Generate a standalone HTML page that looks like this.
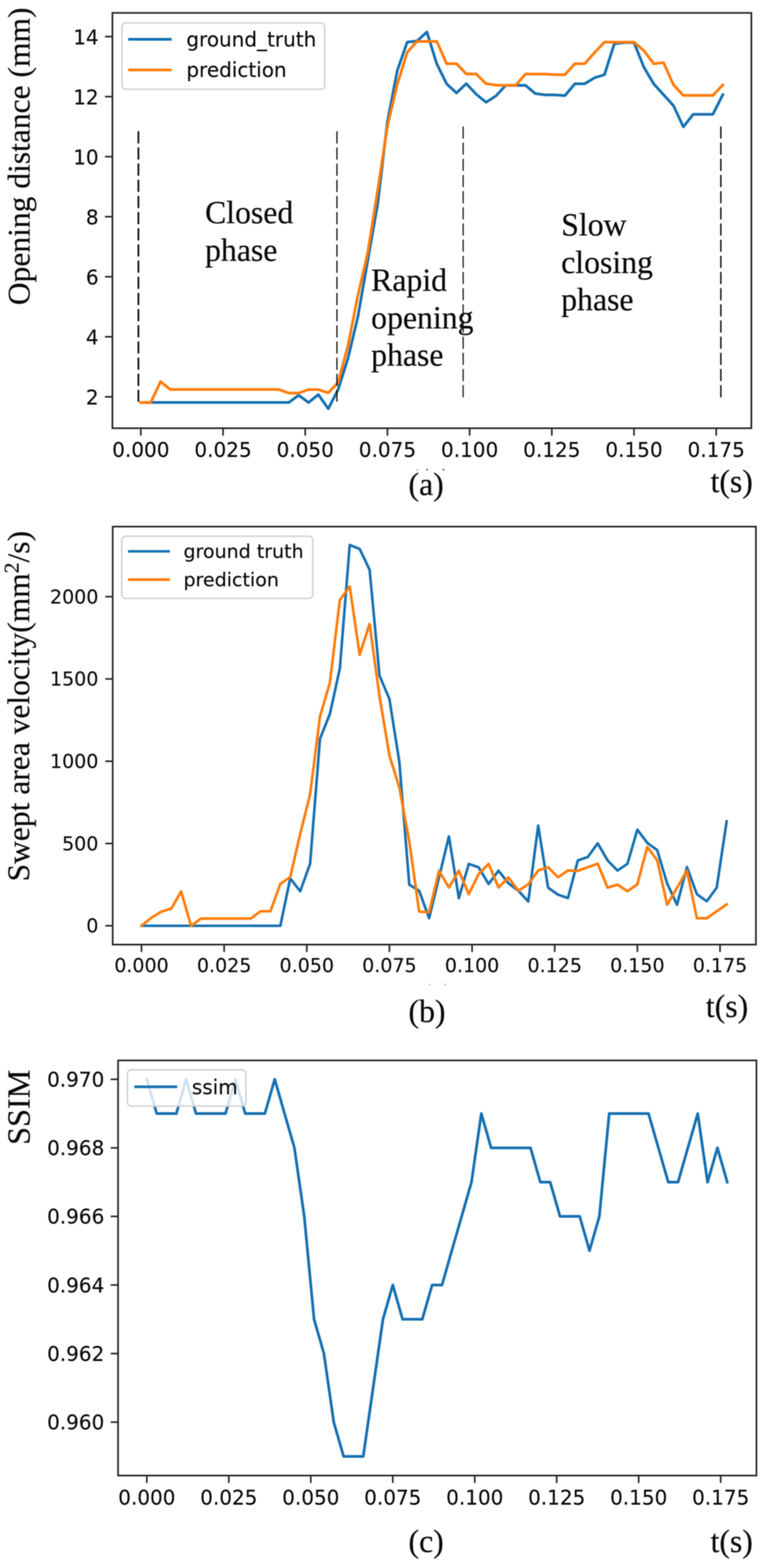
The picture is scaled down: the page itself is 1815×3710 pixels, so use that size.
<!DOCTYPE html>
<html lang="en">
<head>
<meta charset="utf-8">
<title>Figure: opening distance, swept area velocity, SSIM</title>
<style>
html,body{margin:0;padding:0;background:#fff;}
body{width:1815px;height:3710px;overflow:hidden;}
svg{display:block;}
</style>
</head>
<body>
<svg width="1815" height="3710" viewBox="0 0 1815 3710">
<rect width="1815" height="3710" fill="#fff"/>
<defs><filter id="soft" x="0" y="0" width="100%" height="100%" filterUnits="userSpaceOnUse" color-interpolation-filters="sRGB"><feGaussianBlur stdDeviation="0.85"/></filter></defs>
<g filter="url(#soft)">
<rect x="-10" y="-10" width="1835" height="3730" fill="#fff"/>
<g id="chart-a">
<polyline points="333.3,952.3 356.6,952.3 380.0,952.3 403.3,952.3 426.7,952.3 450.0,952.3 473.3,952.3 496.7,952.3 520.0,952.3 543.4,952.3 566.7,952.3 590.0,952.3 613.4,952.3 636.7,952.3 660.1,952.3 683.4,952.3 706.7,935.2 730.1,952.3 753.4,933.6 776.8,967.0 800.1,921.8 823.4,848.0 846.8,750.0 870.1,617.0 893.5,484.0 916.8,288.0 940.1,167.0 963.5,99.8 986.8,97.1 1010.2,75.7 1033.5,150.7 1056.8,198.3 1080.2,219.8 1103.5,197.9 1126.9,223.0 1150.2,241.9 1173.5,226.9 1196.9,201.9 1220.2,201.9 1243.6,201.9 1266.9,221.4 1290.2,224.5 1313.6,224.5 1336.9,226.2 1360.3,198.3 1383.6,198.3 1406.9,184.0 1430.3,176.9 1453.6,103.8 1477.0,100.7 1500.3,100.7 1523.6,159.0 1547.0,198.5 1570.3,224.2 1593.7,250.0 1617.0,300.2 1640.3,270.5 1663.7,270.5 1687.0,270.5 1710.4,224.0" fill="none" stroke="#1570b2" stroke-width="6.5" stroke-linejoin="round" stroke-linecap="square" />
<polyline points="333.3,952.3 356.6,952.3 380.0,903.0 403.3,921.6 426.7,921.6 450.0,921.6 473.3,921.6 496.7,921.6 520.0,921.6 543.4,921.6 566.7,921.6 590.0,921.6 613.4,921.6 636.7,921.6 660.1,921.6 683.4,930.0 706.7,930.0 730.1,921.7 753.4,921.7 776.8,929.5 800.1,905.0 823.4,818.0 846.8,699.5 870.1,598.6 893.5,452.0 916.8,298.5 940.1,199.5 963.5,124.0 986.8,97.9 1010.2,97.9 1033.5,97.9 1056.8,150.7 1080.2,150.7 1103.5,175.0 1126.9,175.0 1150.2,198.0 1173.5,201.4 1196.9,201.9 1220.2,201.9 1243.6,175.2 1266.9,175.2 1290.2,175.2 1313.6,176.7 1336.9,176.7 1360.3,150.7 1383.6,150.7 1406.9,124.5 1430.3,99.7 1453.6,99.7 1477.0,99.7 1500.3,99.7 1523.6,119.8 1547.0,150.7 1570.3,148.3 1593.7,200.8 1617.0,225.8 1640.3,225.8 1663.7,225.8 1687.0,225.8 1710.4,200.8" fill="none" stroke="#ff7c0a" stroke-width="6.5" stroke-linejoin="round" stroke-linecap="square" />
<line x1="327.5" y1="310.5" x2="327.5" y2="950.6" stroke="#111" stroke-width="4.2" stroke-dasharray="28.8 9.45"/>
<line x1="797.3" y1="310.8" x2="797.3" y2="950.2" stroke="#111" stroke-width="3.0" stroke-dasharray="28.8 9.45"/>
<line x1="1096.0" y1="299.2" x2="1096.0" y2="941.6" stroke="#111" stroke-width="2.8" stroke-dasharray="28.8 9.45"/>
<line x1="1705.8" y1="299.2" x2="1705.8" y2="941.6" stroke="#111" stroke-width="3.4" stroke-dasharray="28.8 9.45"/>
<rect x="266" y="30.5" width="1512" height="982.7" fill="none" stroke="#222" stroke-width="3.9"/>
<line x1="333.3" y1="1013.2" x2="333.3" y2="1030.7" stroke="#222" stroke-width="3.8"/>
<text x="333.3" y="1081.0" font-family='"DejaVu Sans", "Liberation Sans", sans-serif' font-size="47.3" text-anchor="middle" fill="#0a0a0a" stroke="#0a0a0a" stroke-width="0.3" stroke-linejoin="round" >0.000</text>
<line x1="527.8" y1="1013.2" x2="527.8" y2="1030.7" stroke="#222" stroke-width="3.8"/>
<text x="527.8" y="1081.0" font-family='"DejaVu Sans", "Liberation Sans", sans-serif' font-size="47.3" text-anchor="middle" fill="#0a0a0a" stroke="#0a0a0a" stroke-width="0.3" stroke-linejoin="round" >0.025</text>
<line x1="722.3" y1="1013.2" x2="722.3" y2="1030.7" stroke="#222" stroke-width="3.8"/>
<text x="722.3" y="1081.0" font-family='"DejaVu Sans", "Liberation Sans", sans-serif' font-size="47.3" text-anchor="middle" fill="#0a0a0a" stroke="#0a0a0a" stroke-width="0.3" stroke-linejoin="round" >0.050</text>
<line x1="916.8" y1="1013.2" x2="916.8" y2="1030.7" stroke="#222" stroke-width="3.8"/>
<text x="916.8" y="1081.0" font-family='"DejaVu Sans", "Liberation Sans", sans-serif' font-size="47.3" text-anchor="middle" fill="#0a0a0a" stroke="#0a0a0a" stroke-width="0.3" stroke-linejoin="round" >0.075</text>
<line x1="1111.3" y1="1013.2" x2="1111.3" y2="1030.7" stroke="#222" stroke-width="3.8"/>
<text x="1111.3" y="1081.0" font-family='"DejaVu Sans", "Liberation Sans", sans-serif' font-size="47.3" text-anchor="middle" fill="#0a0a0a" stroke="#0a0a0a" stroke-width="0.3" stroke-linejoin="round" >0.100</text>
<line x1="1305.8" y1="1013.2" x2="1305.8" y2="1030.7" stroke="#222" stroke-width="3.8"/>
<text x="1305.8" y="1081.0" font-family='"DejaVu Sans", "Liberation Sans", sans-serif' font-size="47.3" text-anchor="middle" fill="#0a0a0a" stroke="#0a0a0a" stroke-width="0.3" stroke-linejoin="round" >0.125</text>
<line x1="1500.3" y1="1013.2" x2="1500.3" y2="1030.7" stroke="#222" stroke-width="3.8"/>
<text x="1500.3" y="1081.0" font-family='"DejaVu Sans", "Liberation Sans", sans-serif' font-size="47.3" text-anchor="middle" fill="#0a0a0a" stroke="#0a0a0a" stroke-width="0.3" stroke-linejoin="round" >0.150</text>
<line x1="1694.8" y1="1013.2" x2="1694.8" y2="1030.7" stroke="#222" stroke-width="3.8"/>
<text x="1694.8" y="1081.0" font-family='"DejaVu Sans", "Liberation Sans", sans-serif' font-size="47.3" text-anchor="middle" fill="#0a0a0a" stroke="#0a0a0a" stroke-width="0.3" stroke-linejoin="round" >0.175</text>
<line x1="248.5" y1="938.9" x2="266" y2="938.9" stroke="#222" stroke-width="3.8"/>
<text x="233.4" y="957.2" font-family='"DejaVu Sans", "Liberation Sans", sans-serif' font-size="47.3" text-anchor="end" fill="#0a0a0a" stroke="#0a0a0a" stroke-width="0.3" stroke-linejoin="round" >2</text>
<line x1="248.5" y1="796.8" x2="266" y2="796.8" stroke="#222" stroke-width="3.8"/>
<text x="233.4" y="815.1" font-family='"DejaVu Sans", "Liberation Sans", sans-serif' font-size="47.3" text-anchor="end" fill="#0a0a0a" stroke="#0a0a0a" stroke-width="0.3" stroke-linejoin="round" >4</text>
<line x1="248.5" y1="654.8" x2="266" y2="654.8" stroke="#222" stroke-width="3.8"/>
<text x="233.4" y="673.0" font-family='"DejaVu Sans", "Liberation Sans", sans-serif' font-size="47.3" text-anchor="end" fill="#0a0a0a" stroke="#0a0a0a" stroke-width="0.3" stroke-linejoin="round" >6</text>
<line x1="248.5" y1="512.7" x2="266" y2="512.7" stroke="#222" stroke-width="3.8"/>
<text x="233.4" y="531.0" font-family='"DejaVu Sans", "Liberation Sans", sans-serif' font-size="47.3" text-anchor="end" fill="#0a0a0a" stroke="#0a0a0a" stroke-width="0.3" stroke-linejoin="round" >8</text>
<line x1="248.5" y1="370.6" x2="266" y2="370.6" stroke="#222" stroke-width="3.8"/>
<text x="233.4" y="388.9" font-family='"DejaVu Sans", "Liberation Sans", sans-serif' font-size="47.3" text-anchor="end" fill="#0a0a0a" stroke="#0a0a0a" stroke-width="0.3" stroke-linejoin="round" >10</text>
<line x1="248.5" y1="228.6" x2="266" y2="228.6" stroke="#222" stroke-width="3.8"/>
<text x="233.4" y="246.8" font-family='"DejaVu Sans", "Liberation Sans", sans-serif' font-size="47.3" text-anchor="end" fill="#0a0a0a" stroke="#0a0a0a" stroke-width="0.3" stroke-linejoin="round" >12</text>
<line x1="248.5" y1="86.5" x2="266" y2="86.5" stroke="#222" stroke-width="3.8"/>
<text x="233.4" y="104.7" font-family='"DejaVu Sans", "Liberation Sans", sans-serif' font-size="47.3" text-anchor="end" fill="#0a0a0a" stroke="#0a0a0a" stroke-width="0.3" stroke-linejoin="round" >14</text>
<rect x="288.6" y="54.3" width="479.6" height="157" rx="9" ry="9" fill="#fff" fill-opacity="0.8" stroke="#d2d2d2" stroke-width="3.6"/>
<line x1="306.5" y1="92.9" x2="403" y2="92.9" stroke="#1570b2" stroke-width="6.5" stroke-linecap="square"/>
<line x1="306.5" y1="165.5" x2="403" y2="165.5" stroke="#ff7c0a" stroke-width="6.5" stroke-linecap="square"/>
<text x="441.0" y="109.5" font-family='"DejaVu Sans", "Liberation Sans", sans-serif' font-size="47.3" text-anchor="start" fill="#0a0a0a" stroke="#0a0a0a" stroke-width="0.3" stroke-linejoin="round" >ground_truth</text>
<text x="441.0" y="182.1" font-family='"DejaVu Sans", "Liberation Sans", sans-serif' font-size="47.3" text-anchor="start" fill="#0a0a0a" stroke="#0a0a0a" stroke-width="0.3" stroke-linejoin="round" >prediction</text>
<text x="485.2" y="527.8" font-family='"Liberation Serif", "DejaVu Serif", serif' font-size="75.2" text-anchor="start" fill="#0a0a0a" stroke="#0a0a0a" stroke-width="0.45" stroke-linejoin="round" >Closed</text>
<text x="485.2" y="617.0" font-family='"Liberation Serif", "DejaVu Serif", serif' font-size="75.2" text-anchor="start" fill="#0a0a0a" stroke="#0a0a0a" stroke-width="0.45" stroke-linejoin="round" >phase</text>
<text x="878.3" y="688.0" font-family='"Liberation Serif", "DejaVu Serif", serif' font-size="75.2" text-anchor="start" fill="#0a0a0a" stroke="#0a0a0a" stroke-width="0.45" stroke-linejoin="round" >Rapid</text>
<text x="878.3" y="777.2" font-family='"Liberation Serif", "DejaVu Serif", serif' font-size="75.2" text-anchor="start" fill="#0a0a0a" stroke="#0a0a0a" stroke-width="0.45" stroke-linejoin="round" >opening</text>
<text x="878.3" y="865.3" font-family='"Liberation Serif", "DejaVu Serif", serif' font-size="75.2" text-anchor="start" fill="#0a0a0a" stroke="#0a0a0a" stroke-width="0.45" stroke-linejoin="round" >phase</text>
<text x="1328.0" y="557.2" font-family='"Liberation Serif", "DejaVu Serif", serif' font-size="75.2" text-anchor="start" fill="#0a0a0a" stroke="#0a0a0a" stroke-width="0.45" stroke-linejoin="round" >Slow</text>
<text x="1328.0" y="645.6" font-family='"Liberation Serif", "DejaVu Serif", serif' font-size="75.2" text-anchor="start" fill="#0a0a0a" stroke="#0a0a0a" stroke-width="0.45" stroke-linejoin="round" >closing</text>
<text x="1328.0" y="733.8" font-family='"Liberation Serif", "DejaVu Serif", serif' font-size="75.2" text-anchor="start" fill="#0a0a0a" stroke="#0a0a0a" stroke-width="0.45" stroke-linejoin="round" >phase</text>
<text x="0" y="0" font-family='"Liberation Serif", "DejaVu Serif", serif' font-size="74.6" text-anchor="start" fill="#0a0a0a" stroke="#0a0a0a" stroke-width="0.45" stroke-linejoin="round" transform="translate(69.5,722) rotate(-90)">Opening distance (mm)</text>
<text x="966.6" y="1170.8" font-family='"Liberation Serif", "DejaVu Serif", serif' font-size="75.3" text-anchor="start" fill="#0a0a0a" stroke="#0a0a0a" stroke-width="0.45" stroke-linejoin="round" >(a)</text>
<circle cx="988" cy="1111.8" r="1.6" fill="#777"/>
<circle cx="1010.5" cy="1111.3" r="2.0" fill="#444"/>
<circle cx="1049.5" cy="1111.3" r="2.0" fill="#333"/>
<text x="1681.4" y="1163.8" font-family='"Liberation Serif", "DejaVu Serif", serif' font-size="75.2" text-anchor="start" fill="#0a0a0a" stroke="#0a0a0a" stroke-width="0.45" stroke-linejoin="round" >t(s)</text>
</g>
<g id="chart-b">
<polyline points="334.8,2190.5 358.3,2190.5 381.7,2190.5 405.2,2190.5 428.7,2190.5 452.1,2190.5 475.6,2190.5 499.1,2190.5 522.6,2190.5 546.0,2190.5 569.5,2190.5 593.0,2190.5 616.4,2190.5 639.9,2190.5 663.4,2190.5 686.8,2078.4 710.3,2108.7 733.8,2043.7 757.2,1747.8 780.7,1689.0 804.2,1581.5 827.6,1289.4 851.1,1298.8 874.6,1347.8 898.1,1598.6 921.5,1653.9 945.0,1803.0 968.5,2093.2 991.9,2107.6 1015.4,2172.6 1038.9,2076.0 1062.3,1979.1 1085.8,2125.1 1109.3,2044.1 1132.7,2052.3 1156.2,2091.6 1179.7,2060.1 1203.2,2090.0 1226.6,2107.6 1250.1,2132.9 1273.6,1953.4 1297.0,2100.2 1320.5,2116.9 1344.0,2124.7 1367.4,2035.9 1390.9,2027.7 1414.4,1995.4 1437.8,2035.9 1461.3,2059.7 1484.8,2043.7 1508.2,1963.1 1531.7,1994.2 1555.2,2011.4 1578.7,2090.4 1602.1,2140.7 1625.6,2051.5 1649.1,2115.7 1672.5,2132.5 1696.0,2100.2 1719.5,1943.6" fill="none" stroke="#1570b2" stroke-width="6.2" stroke-linejoin="round" stroke-linecap="square" />
<polyline points="334.8,2190.5 358.3,2171.4 381.7,2157.0 405.2,2150.0 428.7,2109.1 452.1,2190.5 475.6,2173.4 499.1,2173.4 522.6,2173.4 546.0,2173.4 569.5,2173.4 593.0,2173.4 616.4,2156.2 639.9,2156.2 663.4,2091.2 686.8,2075.2 710.3,1973.2 733.8,1879.4 757.2,1695.2 780.7,1615.0 804.2,1419.5 827.6,1387.6 851.1,1549.5 874.6,1476.3 898.1,1647.7 921.5,1787.5 945.0,1863.4 968.5,1990.3 991.9,2157.0 1015.4,2158.6 1038.9,2060.1 1062.3,2099.8 1085.8,2060.1 1109.3,2115.7 1132.7,2067.8 1156.2,2044.1 1179.7,2099.8 1203.2,2076.0 1226.6,2107.6 1250.1,2092.4 1273.6,2059.7 1297.0,2051.9 1320.5,2075.6 1344.0,2059.7 1367.4,2060.4 1390.9,2051.9 1414.4,2043.7 1437.8,2100.2 1461.3,2093.2 1484.8,2108.7 1508.2,2092.4 1531.7,2004.0 1555.2,2035.5 1578.7,2140.7 1602.1,2100.5 1625.6,2060.1 1649.1,2172.6 1672.5,2172.6 1696.0,2156.2 1719.5,2139.9" fill="none" stroke="#ff7c0a" stroke-width="6.2" stroke-linejoin="round" stroke-linecap="square" />
<rect x="266.7" y="1246" width="1522.1" height="989.0" fill="none" stroke="#222" stroke-width="3.9"/>
<line x1="334.8" y1="2235.0" x2="334.8" y2="2252.5" stroke="#222" stroke-width="3.8"/>
<text x="334.8" y="2300.3" font-family='"DejaVu Sans", "Liberation Sans", sans-serif' font-size="45.0" text-anchor="middle" fill="#0a0a0a" stroke="#0a0a0a" stroke-width="0.3" stroke-linejoin="round" >0.000</text>
<line x1="530.4" y1="2235.0" x2="530.4" y2="2252.5" stroke="#222" stroke-width="3.8"/>
<text x="530.4" y="2300.3" font-family='"DejaVu Sans", "Liberation Sans", sans-serif' font-size="45.0" text-anchor="middle" fill="#0a0a0a" stroke="#0a0a0a" stroke-width="0.3" stroke-linejoin="round" >0.025</text>
<line x1="726.0" y1="2235.0" x2="726.0" y2="2252.5" stroke="#222" stroke-width="3.8"/>
<text x="726.0" y="2300.3" font-family='"DejaVu Sans", "Liberation Sans", sans-serif' font-size="45.0" text-anchor="middle" fill="#0a0a0a" stroke="#0a0a0a" stroke-width="0.3" stroke-linejoin="round" >0.050</text>
<line x1="921.5" y1="2235.0" x2="921.5" y2="2252.5" stroke="#222" stroke-width="3.8"/>
<text x="921.5" y="2300.3" font-family='"DejaVu Sans", "Liberation Sans", sans-serif' font-size="45.0" text-anchor="middle" fill="#0a0a0a" stroke="#0a0a0a" stroke-width="0.3" stroke-linejoin="round" >0.075</text>
<line x1="1117.1" y1="2235.0" x2="1117.1" y2="2252.5" stroke="#222" stroke-width="3.8"/>
<text x="1117.1" y="2300.3" font-family='"DejaVu Sans", "Liberation Sans", sans-serif' font-size="45.0" text-anchor="middle" fill="#0a0a0a" stroke="#0a0a0a" stroke-width="0.3" stroke-linejoin="round" >0.100</text>
<line x1="1312.7" y1="2235.0" x2="1312.7" y2="2252.5" stroke="#222" stroke-width="3.8"/>
<text x="1312.7" y="2300.3" font-family='"DejaVu Sans", "Liberation Sans", sans-serif' font-size="45.0" text-anchor="middle" fill="#0a0a0a" stroke="#0a0a0a" stroke-width="0.3" stroke-linejoin="round" >0.125</text>
<line x1="1508.2" y1="2235.0" x2="1508.2" y2="2252.5" stroke="#222" stroke-width="3.8"/>
<text x="1508.2" y="2300.3" font-family='"DejaVu Sans", "Liberation Sans", sans-serif' font-size="45.0" text-anchor="middle" fill="#0a0a0a" stroke="#0a0a0a" stroke-width="0.3" stroke-linejoin="round" >0.150</text>
<line x1="1703.8" y1="2235.0" x2="1703.8" y2="2252.5" stroke="#222" stroke-width="3.8"/>
<text x="1703.8" y="2300.3" font-family='"DejaVu Sans", "Liberation Sans", sans-serif' font-size="45.0" text-anchor="middle" fill="#0a0a0a" stroke="#0a0a0a" stroke-width="0.3" stroke-linejoin="round" >0.175</text>
<line x1="249.2" y1="2190.5" x2="266.7" y2="2190.5" stroke="#222" stroke-width="3.8"/>
<text x="232.8" y="2206.3" font-family='"DejaVu Sans", "Liberation Sans", sans-serif' font-size="45.0" text-anchor="end" fill="#0a0a0a" stroke="#0a0a0a" stroke-width="0.3" stroke-linejoin="round" >0</text>
<line x1="249.2" y1="1995.8" x2="266.7" y2="1995.8" stroke="#222" stroke-width="3.8"/>
<text x="232.8" y="2011.6" font-family='"DejaVu Sans", "Liberation Sans", sans-serif' font-size="45.0" text-anchor="end" fill="#0a0a0a" stroke="#0a0a0a" stroke-width="0.3" stroke-linejoin="round" >500</text>
<line x1="249.2" y1="1801.1" x2="266.7" y2="1801.1" stroke="#222" stroke-width="3.8"/>
<text x="232.8" y="1816.9" font-family='"DejaVu Sans", "Liberation Sans", sans-serif' font-size="45.0" text-anchor="end" fill="#0a0a0a" stroke="#0a0a0a" stroke-width="0.3" stroke-linejoin="round" >1000</text>
<line x1="249.2" y1="1606.4" x2="266.7" y2="1606.4" stroke="#222" stroke-width="3.8"/>
<text x="232.8" y="1622.2" font-family='"DejaVu Sans", "Liberation Sans", sans-serif' font-size="45.0" text-anchor="end" fill="#0a0a0a" stroke="#0a0a0a" stroke-width="0.3" stroke-linejoin="round" >1500</text>
<line x1="249.2" y1="1411.7" x2="266.7" y2="1411.7" stroke="#222" stroke-width="3.8"/>
<text x="232.8" y="1427.5" font-family='"DejaVu Sans", "Liberation Sans", sans-serif' font-size="45.0" text-anchor="end" fill="#0a0a0a" stroke="#0a0a0a" stroke-width="0.3" stroke-linejoin="round" >2000</text>
<rect x="288.1" y="1268.8" width="452" height="147" rx="9" ry="9" fill="#fff" fill-opacity="0.8" stroke="#d2d2d2" stroke-width="3.6"/>
<line x1="306" y1="1304.5" x2="399" y2="1304.5" stroke="#1570b2" stroke-width="6.2" stroke-linecap="square"/>
<line x1="306" y1="1371.4" x2="399" y2="1371.4" stroke="#ff7c0a" stroke-width="6.2" stroke-linecap="square"/>
<text x="434.2" y="1320" font-family='"DejaVu Sans", "Liberation Sans", sans-serif' font-size="45.0" text-anchor="start" fill="#0a0a0a" stroke="#0a0a0a" stroke-width="0.3" stroke-linejoin="round" >ground truth</text>
<text x="434.2" y="1387" font-family='"DejaVu Sans", "Liberation Sans", sans-serif' font-size="45.0" text-anchor="start" fill="#0a0a0a" stroke="#0a0a0a" stroke-width="0.3" stroke-linejoin="round" >prediction</text>
<text x="0" y="0" font-family='"Liberation Serif", "DejaVu Serif", serif' font-size="74.6" text-anchor="start" fill="#0a0a0a" stroke="#0a0a0a" stroke-width="0.45" stroke-linejoin="round" transform="translate(69,2085.5) rotate(-90)">Swept area velocity(mm<tspan dy="-25" font-size="51">2</tspan><tspan dy="25">/s)</tspan></text>
<text x="966.6" y="2418.3" font-family='"Liberation Serif", "DejaVu Serif", serif' font-size="75.3" text-anchor="start" fill="#0a0a0a" stroke="#0a0a0a" stroke-width="0.45" stroke-linejoin="round" >(b)</text>
<circle cx="1016.5" cy="2328.9" r="1.5" fill="#888"/>
<circle cx="1053" cy="2328.9" r="1.5" fill="#777"/>
<text x="1670.3" y="2405.6" font-family='"Liberation Serif", "DejaVu Serif", serif' font-size="75.2" text-anchor="start" fill="#0a0a0a" stroke="#0a0a0a" stroke-width="0.45" stroke-linejoin="round" >t(s)</text>
</g>
<g id="chart-c">
<polyline points="347.5,2553.7 370.8,2634.8 394.1,2634.8 417.3,2634.8 440.6,2553.7 463.9,2634.8 487.2,2634.8 510.4,2634.8 533.7,2634.8 557.0,2553.7 580.3,2634.8 603.6,2634.8 626.8,2634.8 650.1,2553.7 673.4,2634.8 696.7,2715.9 720.0,2878.1 743.2,3121.5 766.5,3202.6 789.8,3364.8 813.1,3445.9 836.3,3445.9 859.6,3445.9 882.9,3283.7 906.2,3121.5 929.5,3040.4 952.7,3121.5 976.0,3121.5 999.3,3121.5 1022.6,3040.4 1045.9,3040.4 1069.1,2959.2 1092.4,2878.1 1115.7,2797.0 1139.0,2634.8 1162.2,2715.9 1185.5,2715.9 1208.8,2715.9 1232.1,2715.9 1255.4,2715.9 1278.6,2797.0 1301.9,2797.0 1325.2,2878.1 1348.5,2878.1 1371.8,2878.1 1395.0,2959.2 1418.3,2878.1 1441.6,2634.8 1464.9,2634.8 1488.1,2634.8 1511.4,2634.8 1534.7,2634.8 1558.0,2715.9 1581.3,2797.0 1604.5,2797.0 1627.8,2715.9 1651.1,2634.8 1674.4,2797.0 1697.7,2715.9 1720.9,2797.0" fill="none" stroke="#1570b2" stroke-width="6.5" stroke-linejoin="round" stroke-linecap="square" />
<rect x="279.4" y="2509" width="1510.6" height="982.3000000000002" fill="none" stroke="#222" stroke-width="3.9"/>
<line x1="347.5" y1="3491.3" x2="347.5" y2="3508.8" stroke="#222" stroke-width="3.8"/>
<text x="347.5" y="3559.8" font-family='"DejaVu Sans", "Liberation Sans", sans-serif' font-size="47.3" text-anchor="middle" fill="#0a0a0a" stroke="#0a0a0a" stroke-width="0.3" stroke-linejoin="round" >0.000</text>
<line x1="541.5" y1="3491.3" x2="541.5" y2="3508.8" stroke="#222" stroke-width="3.8"/>
<text x="541.5" y="3559.8" font-family='"DejaVu Sans", "Liberation Sans", sans-serif' font-size="47.3" text-anchor="middle" fill="#0a0a0a" stroke="#0a0a0a" stroke-width="0.3" stroke-linejoin="round" >0.025</text>
<line x1="735.5" y1="3491.3" x2="735.5" y2="3508.8" stroke="#222" stroke-width="3.8"/>
<text x="735.5" y="3559.8" font-family='"DejaVu Sans", "Liberation Sans", sans-serif' font-size="47.3" text-anchor="middle" fill="#0a0a0a" stroke="#0a0a0a" stroke-width="0.3" stroke-linejoin="round" >0.050</text>
<line x1="929.5" y1="3491.3" x2="929.5" y2="3508.8" stroke="#222" stroke-width="3.8"/>
<text x="929.5" y="3559.8" font-family='"DejaVu Sans", "Liberation Sans", sans-serif' font-size="47.3" text-anchor="middle" fill="#0a0a0a" stroke="#0a0a0a" stroke-width="0.3" stroke-linejoin="round" >0.075</text>
<line x1="1123.5" y1="3491.3" x2="1123.5" y2="3508.8" stroke="#222" stroke-width="3.8"/>
<text x="1123.5" y="3559.8" font-family='"DejaVu Sans", "Liberation Sans", sans-serif' font-size="47.3" text-anchor="middle" fill="#0a0a0a" stroke="#0a0a0a" stroke-width="0.3" stroke-linejoin="round" >0.100</text>
<line x1="1317.4" y1="3491.3" x2="1317.4" y2="3508.8" stroke="#222" stroke-width="3.8"/>
<text x="1317.4" y="3559.8" font-family='"DejaVu Sans", "Liberation Sans", sans-serif' font-size="47.3" text-anchor="middle" fill="#0a0a0a" stroke="#0a0a0a" stroke-width="0.3" stroke-linejoin="round" >0.125</text>
<line x1="1511.4" y1="3491.3" x2="1511.4" y2="3508.8" stroke="#222" stroke-width="3.8"/>
<text x="1511.4" y="3559.8" font-family='"DejaVu Sans", "Liberation Sans", sans-serif' font-size="47.3" text-anchor="middle" fill="#0a0a0a" stroke="#0a0a0a" stroke-width="0.3" stroke-linejoin="round" >0.150</text>
<line x1="1705.4" y1="3491.3" x2="1705.4" y2="3508.8" stroke="#222" stroke-width="3.8"/>
<text x="1705.4" y="3559.8" font-family='"DejaVu Sans", "Liberation Sans", sans-serif' font-size="47.3" text-anchor="middle" fill="#0a0a0a" stroke="#0a0a0a" stroke-width="0.3" stroke-linejoin="round" >0.175</text>
<line x1="261.9" y1="2553.7" x2="279.4" y2="2553.7" stroke="#222" stroke-width="3.8"/>
<text x="246.8" y="2571.0" font-family='"DejaVu Sans", "Liberation Sans", sans-serif' font-size="47.3" text-anchor="end" fill="#0a0a0a" stroke="#0a0a0a" stroke-width="0.3" stroke-linejoin="round" >0.970</text>
<line x1="261.9" y1="2715.9" x2="279.4" y2="2715.9" stroke="#222" stroke-width="3.8"/>
<text x="246.8" y="2733.2" font-family='"DejaVu Sans", "Liberation Sans", sans-serif' font-size="47.3" text-anchor="end" fill="#0a0a0a" stroke="#0a0a0a" stroke-width="0.3" stroke-linejoin="round" >0.968</text>
<line x1="261.9" y1="2878.1" x2="279.4" y2="2878.1" stroke="#222" stroke-width="3.8"/>
<text x="246.8" y="2895.4" font-family='"DejaVu Sans", "Liberation Sans", sans-serif' font-size="47.3" text-anchor="end" fill="#0a0a0a" stroke="#0a0a0a" stroke-width="0.3" stroke-linejoin="round" >0.966</text>
<line x1="261.9" y1="3040.4" x2="279.4" y2="3040.4" stroke="#222" stroke-width="3.8"/>
<text x="246.8" y="3057.6" font-family='"DejaVu Sans", "Liberation Sans", sans-serif' font-size="47.3" text-anchor="end" fill="#0a0a0a" stroke="#0a0a0a" stroke-width="0.3" stroke-linejoin="round" >0.964</text>
<line x1="261.9" y1="3202.6" x2="279.4" y2="3202.6" stroke="#222" stroke-width="3.8"/>
<text x="246.8" y="3219.8" font-family='"DejaVu Sans", "Liberation Sans", sans-serif' font-size="47.3" text-anchor="end" fill="#0a0a0a" stroke="#0a0a0a" stroke-width="0.3" stroke-linejoin="round" >0.962</text>
<line x1="261.9" y1="3364.8" x2="279.4" y2="3364.8" stroke="#222" stroke-width="3.8"/>
<text x="246.8" y="3382.1" font-family='"DejaVu Sans", "Liberation Sans", sans-serif' font-size="47.3" text-anchor="end" fill="#0a0a0a" stroke="#0a0a0a" stroke-width="0.3" stroke-linejoin="round" >0.960</text>
<rect x="301.6" y="2531.4" width="280.3" height="85.7" rx="9" ry="9" fill="#fff" fill-opacity="0.8" stroke="#d2d2d2" stroke-width="3.6"/>
<line x1="321" y1="2571.4" x2="416" y2="2571.4" stroke="#1570b2" stroke-width="6.5" stroke-linecap="square"/>
<text x="454" y="2588.6" font-family='"DejaVu Sans", "Liberation Sans", sans-serif' font-size="47.3" text-anchor="start" fill="#0a0a0a" stroke="#0a0a0a" stroke-width="0.3" stroke-linejoin="round" >ssim</text>
<text x="0" y="0" font-family='"Liberation Serif", "DejaVu Serif", serif' font-size="76.3" text-anchor="start" fill="#0a0a0a" stroke="#0a0a0a" stroke-width="0.45" stroke-linejoin="round" transform="translate(69.5,2709) rotate(-90)">SSIM</text>
<text x="966.6" y="3672.4" font-family='"Liberation Serif", "DejaVu Serif", serif' font-size="75.3" text-anchor="start" fill="#0a0a0a" stroke="#0a0a0a" stroke-width="0.45" stroke-linejoin="round" >(c)</text>
<text x="1681.4" y="3672.4" font-family='"Liberation Serif", "DejaVu Serif", serif' font-size="75.2" text-anchor="start" fill="#0a0a0a" stroke="#0a0a0a" stroke-width="0.45" stroke-linejoin="round" >t(s)</text>
</g>
</g>
</svg>
</body>
</html>
